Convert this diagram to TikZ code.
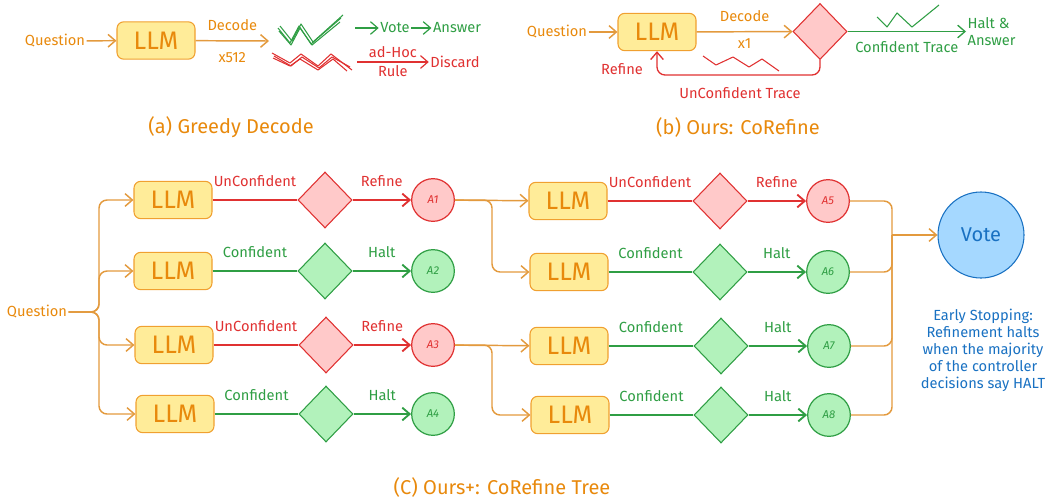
\documentclass[tikz,border=0pt]{standalone}
\usepackage{fontspec}
\setmainfont{Fira Sans}
\usetikzlibrary{shapes.geometric}
\usetikzlibrary{arrows.meta}

\definecolor{qorange}{HTML}{E8890C}
\definecolor{qline}{HTML}{E39A3E}
\definecolor{qboxfill}{HTML}{FFEC99}
\definecolor{qboxdraw}{HTML}{F0A030}
\definecolor{qred}{HTML}{E03131}
\definecolor{qredfill}{HTML}{FFC9C9}
\definecolor{qgreen}{HTML}{2F9E44}
\definecolor{qgreenfill}{HTML}{B2F2BB}
\definecolor{qblue}{HTML}{1971C2}
\definecolor{qbluefill}{HTML}{A5D8FF}

\tikzset{
  lbl/.style={inner sep=1pt, font=\fontsize{11}{12.75}\selectfont},
  llmbox/.style={draw=qboxdraw, fill=qboxfill, rounded corners=5pt, line width=0.8pt,
    minimum width=58.5pt, minimum height=28pt, text=qorange, font=\fontsize{19}{19}\selectfont},
  gate/.style={diamond, minimum width=40.5pt, minimum height=42pt, inner sep=0pt, line width=0.8pt},
  gatered/.style={gate, draw=qred, fill=qredfill},
  gategreen/.style={gate, draw=qgreen, fill=qgreenfill},
  ans/.style={circle, minimum size=32pt, inner sep=0pt, line width=0.9pt, font=\itshape\fontsize{8.5}{9}\selectfont},
  ansred/.style={ans, draw=qred, fill=qredfill, text=qred},
  ansgreen/.style={ans, draw=qgreen, fill=qgreenfill, text=qgreen},
  subcap/.style={text=qorange, font=\fontsize{15}{17}\selectfont},
  tip/.style={-{Straight Barb[length=5.5pt,width=9.5pt]}},
  flow/.style={draw=qline, line width=1.1pt, tip},
  flowline/.style={draw=qline, line width=1.1pt},
  redflow/.style={draw=qred, line width=1.4pt},
  greenflow/.style={draw=qgreen, line width=1.4pt},
  trace/.style={line width=0.8pt, line join=round}
}

\begin{document}
\begin{tikzpicture}[x=0.75pt,y=-0.75pt]
\useasboundingbox (0,0) rectangle (1049,500);

% (a) greedy decode
\node[lbl,text=qorange] (qa) at (55,41) {Question};
\node[llmbox] (llma) at (156,40.5) {LLM};
\coordinate (deca) at (269,41);
\draw[flow] (qa) -- (llma);
\draw[flow] (llma) -- node[lbl,above=6pt,text=qorange] {Decode} node[lbl,below=7pt,text=qorange] {x512} (deca);
\draw[trace,qgreen] (278,28) -- (290,43) -- (299,26) -- (311,44) -- (341,18);
\draw[trace,qgreen] (280,26) -- (292,41) -- (301,24) -- (313,42) -- (343,15);
\draw[trace,qgreen] (279,31) -- (291,45) -- (300,28) -- (312,45) -- (340,22);
\draw[trace,qred] (272,53) -- (290,63) -- (301,54) -- (318,66) -- (331,54) -- (352,70);
\draw[trace,qred] (274,56) -- (291,66) -- (302,57) -- (319,68) -- (332,57) -- (350,67);
\draw[trace,qred] (273,58) -- (290,66) -- (300,59) -- (318,70) -- (333,59) -- (347,71);
\coordinate (ga) at (355,28);
\node[lbl,text=qgreen] (votea) at (395,28) {Vote};
\node[lbl,text=qgreen] (answera) at (457,28) {Answer};
\draw[tip,qgreen,line width=0.9pt] (ga) -- (votea);
\draw[tip,qgreen,line width=0.9pt] (votea) -- (answera);
\coordinate (ra) at (357,62);
\node[lbl,text=qred] (discarda) at (455,62) {Discard};
\draw[tip,qred,line width=0.9pt] (ra) -- node[lbl,above=1.5pt] {ad-Hoc} node[lbl,below=1pt] {Rule} (discarda);
\node[subcap] (capa) at (231,127) {(a) Greedy Decode};

% (b) corefine
\node[lbl,text=qorange] (qb) at (557,32) {Question};
\node[llmbox] (llmb) at (657,32) {LLM};
\node[gatered] (gateb) at (820,31.5) {};
\node[lbl,text=qgreen,align=left,anchor=west] (haltb) at (966,31.5) {Halt \&\\Answer};
\coordinate (loopb) at (820,75);
\draw[flow] (qb) -- (llmb);
\draw[flow] (llmb) -- node[lbl,above=6pt,text=qorange] {Decode} node[lbl,below=4pt,text=qorange] {x1} (gateb);
\draw[tip,qgreen,line width=1pt] (gateb) -- node[lbl,below=6pt] {Confident Trace} (haltb);
\draw[tip,qred,line width=1pt,rounded corners=6pt] (gateb.south) -- (loopb) -| (llmb.south);
\draw[trace,qgreen] (877,17) -- (887,27) -- (897,13) -- (912,27) -- (939,5);
\draw[trace,qred] (703,56) -- (716,65) -- (733,57) -- (749,67) -- (762,59) -- (779,71);
\node[lbl,text=qred] (refb) at (622,69) {Refine};
\node[lbl,text=qred] (uncb) at (740,93) {UnConfident Trace};
\node[subcap] (capb) at (738,127) {(b) Ours: CoRefine};

% (c) corefine tree
\node[lbl,text=qorange] (qc) at (37,312) {Question};
\coordinate (jc) at (99,312);
\node[llmbox] (llm1) at (173,200) {LLM};
\node[llmbox] (llm2) at (173,271) {LLM};
\node[llmbox] (llm3) at (174,345) {LLM};
\node[llmbox] (llm4) at (175,414) {LLM};
\node[gatered] (g1) at (325,200) {};
\node[gategreen] (g2) at (325,271) {};
\node[gatered] (g3) at (326,345) {};
\node[gategreen] (g4) at (326,414) {};
\node[ansred] (a1) at (433,200) {A1};
\node[ansgreen] (a2) at (433,271) {A2};
\node[ansred] (a3) at (433,345) {A3};
\node[ansgreen] (a4) at (433,414) {A4};
\draw[flow,rounded corners=6pt] (qc) -- (jc) |- (llm1);
\draw[flow,rounded corners=6pt] (qc) -- (jc) |- (llm2);
\draw[flow,rounded corners=6pt] (qc) -- (jc) |- (llm3);
\draw[flow,rounded corners=6pt] (qc) -- (jc) |- (llm4);
\draw[redflow] (llm1) -- node[lbl,above=8pt,text=qred] {UnConfident} (g1);
\draw[redflow,tip] (g1) -- node[lbl,above=8pt,text=qred] {Refine} (a1);
\draw[greenflow] (llm2) -- node[lbl,above=8pt,text=qgreen] {Confident} (g2);
\draw[greenflow,tip] (g2) -- node[lbl,above=8pt,text=qgreen] {Halt} (a2);
\draw[redflow] (llm3) -- node[lbl,above=8pt,text=qred] {UnConfident} (g3);
\draw[redflow,tip] (g3) -- node[lbl,above=8pt,text=qred] {Refine} (a3);
\draw[greenflow] (llm4) -- node[lbl,above=8pt,text=qgreen] {Confident} (g4);
\draw[greenflow,tip] (g4) -- node[lbl,above=8pt,text=qgreen] {Halt} (a4);

\coordinate (jb1) at (492,200);
\coordinate (jb3) at (492,345);
\node[llmbox] (llm5) at (568,201) {LLM};
\node[llmbox] (llm6) at (569,272) {LLM};
\node[llmbox] (llm7) at (569,346) {LLM};
\node[llmbox] (llm8) at (570,415) {LLM};
\node[gatered] (g5) at (720,201) {};
\node[gategreen] (g6) at (720,272) {};
\node[gategreen] (g7) at (721,346) {};
\node[gategreen] (g8) at (721,415) {};
\node[ansred] (a5) at (828,201) {A5};
\node[ansgreen] (a6) at (828,272) {A6};
\node[ansgreen] (a7) at (829,346) {A7};
\node[ansgreen] (a8) at (829,415) {A8};
\draw[flow] (a1) -- (llm5);
\draw[flow,rounded corners=6pt] (a1) -- (jb1) |- (llm6);
\draw[flow] (a3) -- (llm7);
\draw[flow,rounded corners=6pt] (a3) -- (jb3) |- (llm8);
\draw[redflow] (llm5) -- node[lbl,above=8pt,text=qred] {UnConfident} (g5);
\draw[redflow,tip] (g5) -- node[lbl,above=8pt,text=qred] {Refine} (a5);
\draw[greenflow] (llm6) -- node[lbl,above=8pt,text=qgreen] {Confident} (g6);
\draw[greenflow,tip] (g6) -- node[lbl,above=8pt,text=qgreen] {Halt} (a6);
\draw[greenflow] (llm7) -- node[lbl,above=8pt,text=qgreen] {Confident} (g7);
\draw[greenflow,tip] (g7) -- node[lbl,above=8pt,text=qgreen] {Halt} (a7);
\draw[greenflow] (llm8) -- node[lbl,above=8pt,text=qgreen] {Confident} (g8);
\draw[greenflow,tip] (g8) -- node[lbl,above=8pt,text=qgreen] {Halt} (a8);

\node[circle,draw=qblue,fill=qbluefill,line width=0.8pt,minimum size=64.5pt,inner sep=0pt,
  text=qblue,font=\fontsize{15}{17}\selectfont] (vote) at (981,235) {Vote};
\coordinate (mv) at (892,235);
\draw[flowline,rounded corners=6pt] (a5) -| (mv);
\draw[flowline,rounded corners=6pt] (a6) -| (mv);
\draw[flowline,rounded corners=6pt] (a7) -| (mv);
\draw[flowline,rounded corners=6pt] (a8) -| (mv);
\draw[flow] (mv) -- (vote);
\node[lbl,text=qblue,align=center] (early) at (983,350) {Early Stopping:\\Refinement halts\\when the majority\\of the controller\\decisions say HALT};
\node[subcap] (capc) at (502,487) {(C) Ours+: CoRefine Tree};
\end{tikzpicture}
\end{document}
